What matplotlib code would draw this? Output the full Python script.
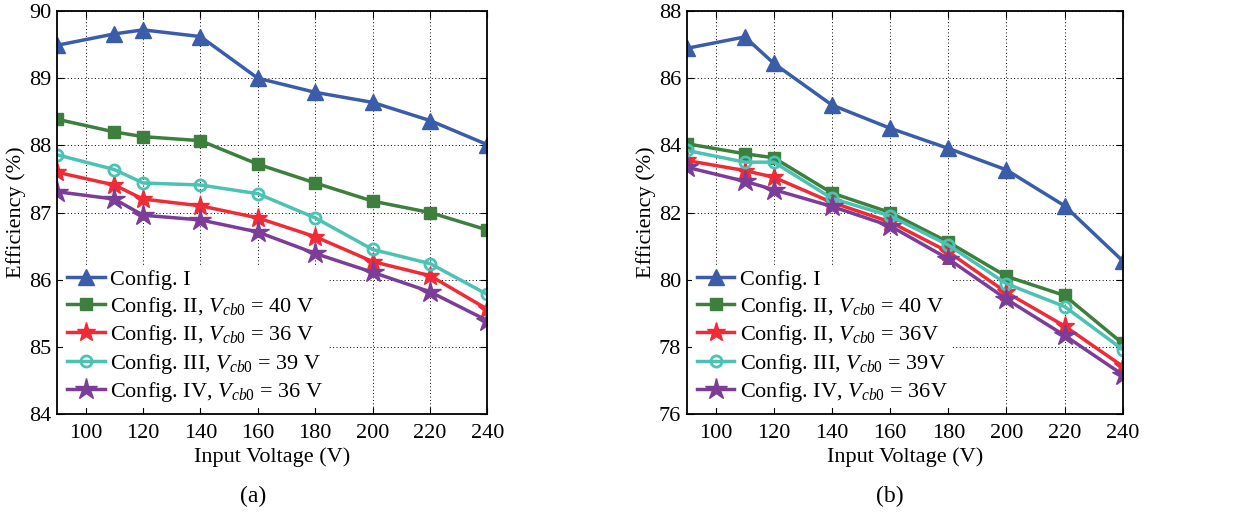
import matplotlib
matplotlib.use("Agg")
import matplotlib.pyplot as plt

plt.rcParams['font.family'] = ['Liberation Serif', 'DejaVu Serif']
plt.rcParams['mathtext.fontset'] = 'custom'
plt.rcParams['mathtext.rm'] = 'Liberation Serif'
plt.rcParams['mathtext.it'] = 'Liberation Serif:italic'

# input voltage (V)
voltage = [90, 110, 120, 140, 160, 180, 200, 220, 240]

# (a) efficiency (%)
a_cfg1 = [89.49, 89.66, 89.72, 89.62, 89.00, 88.79, 88.64, 88.37, 88.01]
a_cfg2_40 = [88.39, 88.20, 88.13, 88.07, 87.72, 87.44, 87.17, 87.00, 86.74]
a_cfg2_36 = [87.60, 87.41, 87.20, 87.10, 86.92, 86.64, 86.27, 86.06, 85.56]
a_cfg3_39 = [87.86, 87.64, 87.44, 87.41, 87.28, 86.92, 86.45, 86.24, 85.78]
a_cfg4_36 = [87.31, 87.20, 86.96, 86.89, 86.71, 86.39, 86.11, 85.82, 85.39]

# (b) efficiency (%)
b_cfg1 = [86.89, 87.23, 86.44, 85.20, 84.51, 83.91, 83.27, 82.20, 80.56]
b_cfg2_40 = [84.05, 83.75, 83.63, 82.58, 82.00, 81.12, 80.10, 79.53, 78.10]
b_cfg2_36 = [83.55, 83.25, 83.05, 82.30, 81.72, 80.83, 79.62, 78.62, 77.42]
b_cfg3_39 = [83.85, 83.50, 83.50, 82.42, 81.90, 81.03, 79.88, 79.20, 77.92]
b_cfg4_36 = [83.35, 82.93, 82.68, 82.18, 81.60, 80.62, 79.42, 78.34, 77.17]

labels_a = ["Config. I",
            r"Config. II, $V_{cb0}$ = 40 V",
            r"Config. II, $V_{cb0}$ = 36 V",
            r"Config. III, $V_{cb0}$ = 39 V",
            r"Config. IV, $V_{cb0}$ = 36 V"]
labels_b = ["Config. I",
            r"Config. II, $V_{cb0}$ = 40 V",
            r"Config. II, $V_{cb0}$ = 36V",
            r"Config. III, $V_{cb0}$ = 39V",
            r"Config. IV, $V_{cb0}$ = 36V"]

colors = ["#3a5ca9", "#3d7f3d", "#ee2b36", "#4cc2b4", "#7b3d97"]
markers = ["^", "s", "*", "o", "*"]
msizes = [11, 8, 14, 8, 16]


def draw(ax, series, labels, ylim, yticks):
    # plot order: cfg1, cfg2_40, cfg2_36, cfg3_39, cfg4_36
    for y, lab, c, m, ms in zip(series, labels, colors, markers, msizes):
        face = "none" if m == "o" else c
        ax.plot(voltage, y, color=c, lw=2.5, marker=m, ms=ms,
                mfc=face, mec=c, mew=2 if m == "o" else 1, label=lab)
    ax.set_xlim(90, 240)
    ax.set_ylim(*ylim)
    ax.set_xticks(range(100, 241, 20))
    ax.set_yticks(yticks)
    ax.grid(True, color="black", linestyle=(0, (1, 2.5)), linewidth=0.7)
    ax.tick_params(direction="in", top=True, right=True, labelsize=16, length=5)
    ax.tick_params(axis="x", pad=7)
    ax.tick_params(axis="y", pad=4)
    for s in ax.spines.values():
        s.set_linewidth(1.3)
    ax.set_xlabel("Input Voltage (V)", fontsize=16, labelpad=3)
    ax.set_ylabel("Efficiency (%)", fontsize=16, labelpad=2)
    leg = ax.legend(loc="lower left", fontsize=16, frameon=True, fancybox=False,
                    edgecolor="none", framealpha=1, handlelength=1.7,
                    handletextpad=0.25, labelspacing=0.2, borderaxespad=0.25,
                    borderpad=0.2)
    leg.get_frame().set_linewidth(0)


fig = plt.figure(figsize=(12.44, 5.12), dpi=100)
ax1 = fig.add_axes([0.0458, 0.1914, 0.346, 0.787])
ax2 = fig.add_axes([0.552, 0.1914, 0.3505, 0.787])

draw(ax1, [a_cfg1, a_cfg2_40, a_cfg2_36, a_cfg3_39, a_cfg4_36], labels_a,
     (84, 90), range(84, 91))
draw(ax2, [b_cfg1, b_cfg2_40, b_cfg2_36, b_cfg3_39, b_cfg4_36], labels_b,
     (76, 88), range(76, 89, 2))

fig.text(0.2035, 0.02, "(a)", ha="center", fontsize=17)
fig.text(0.7155, 0.02, "(b)", ha="center", fontsize=17)

fig.savefig("out.png", dpi=100)
